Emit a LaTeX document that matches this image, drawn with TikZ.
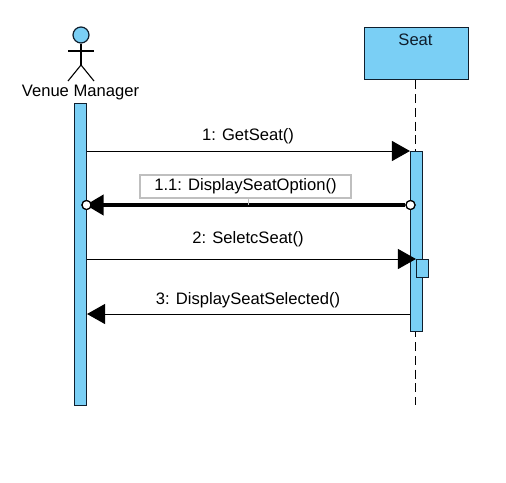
\documentclass[tikz,border=0pt]{standalone}
\usepackage{fontspec}
\setmainfont{Liberation Sans}
\usetikzlibrary{arrows.meta,positioning}
\definecolor{umlblue}{RGB}{122,207,245}
\definecolor{umlline}{RGB}{15,30,45}
\tikzset{
  x=1pt,y=-1pt,
  lbl/.style={font=\fontsize{16.6}{20}\selectfont,inner sep=0pt,text=black},
  barbox/.style={draw=umlline,fill=umlblue,line width=1.1pt,minimum width=12pt,inner sep=0pt,anchor=north},
  msg/.style={draw=black,line width=1pt,-{Triangle[length=18pt,width=20pt]}},
  boldmsg/.style={draw=black,line width=4pt,-{Triangle[length=18pt,width=20pt]},shorten >=-6pt},
  endpoint/.style={circle,draw=black,fill=white,line width=1.2pt,minimum size=9pt,inner sep=0pt},
  stick/.style={draw=black,line width=1.1pt},
  lifeline/.style={draw=black,line width=1pt,dash pattern=on 9pt off 4.78pt}
}
\begin{document}
\begin{tikzpicture}
\useasboundingbox (0,0) rectangle (506,482);
\fill[white] (0,0) rectangle (506,482);
% Actor
\node[circle,draw=umlline,fill=umlblue,line width=1.2pt,minimum size=16pt,inner sep=0pt] (head) at (81,35) {};
\coordinate (hip) at (81,65);
\coordinate (armL) at (68,51);
\coordinate (armR) at (94,51);
\coordinate (legL) at (68,81);
\coordinate (legR) at (94,81);
\draw[stick] (head.south) -- (hip);
\draw[stick] (armL) -- (armR);
\draw[stick] (legL) -- (hip) -- (legR);
\node[lbl] (vmlabel) at (80.5,93) {Venue Manager};
% Seat
\node[draw=umlline,fill=umlblue,line width=1.3pt,minimum width=103.5pt,minimum height=52pt,inner sep=0pt,anchor=north west] (seat) at (364,27) {};
\node[lbl,text=umlline] (seatlabel) at (415.5,39.5) {Seat};
\coordinate (seatend) at (415,405);
\draw[lifeline] (seat.south -| seatend) -- (seatend);
% Activation bars
\node[barbox,minimum height=302.5pt] (vmbar) at (80.5,102.5) {};
\node[barbox,minimum height=180pt] (seatbar) at (416.5,151) {};
\node[barbox,minimum height=18pt] (selfbar) at (422.5,259) {};
% Messages
\draw[msg] (vmbar.east |- 0,151) -- (seatbar.west |- 0,151);
\node[lbl] (m1) at (248,136) {1: GetSeat()};
\node[endpoint] (startc) at (410.5,205) {};
\node[endpoint] (endc) at (86.5,205) {};
\draw[boldmsg] (startc) -- (endc);
\node[endpoint] at (startc) {};
\node[endpoint] at (endc) {};
\node[draw=black!25,fill=white,line width=1.2pt,minimum width=211pt,minimum height=23pt,inner sep=0pt,font=\fontsize{16.6}{20}\selectfont] (m2) at (245.5,186.5) {\raisebox{-1pt}{1.1: DisplaySeatOption()}};
\coordinate (tick) at (248,205);
\draw[draw=black!25,line width=.8pt] (m2.south -| tick) -- (tick);
\draw[msg] (vmbar.east |- 0,259) -- (selfbar.west |- 0,259);
\node[lbl] (m3) at (248,239) {2: SeletcSeat()};
\draw[msg] (seatbar.west |- 0,314) -- (vmbar.east |- 0,314);
\node[lbl] (m4) at (248,300) {3: DisplaySeatSelected()};
\end{tikzpicture}
\end{document}
